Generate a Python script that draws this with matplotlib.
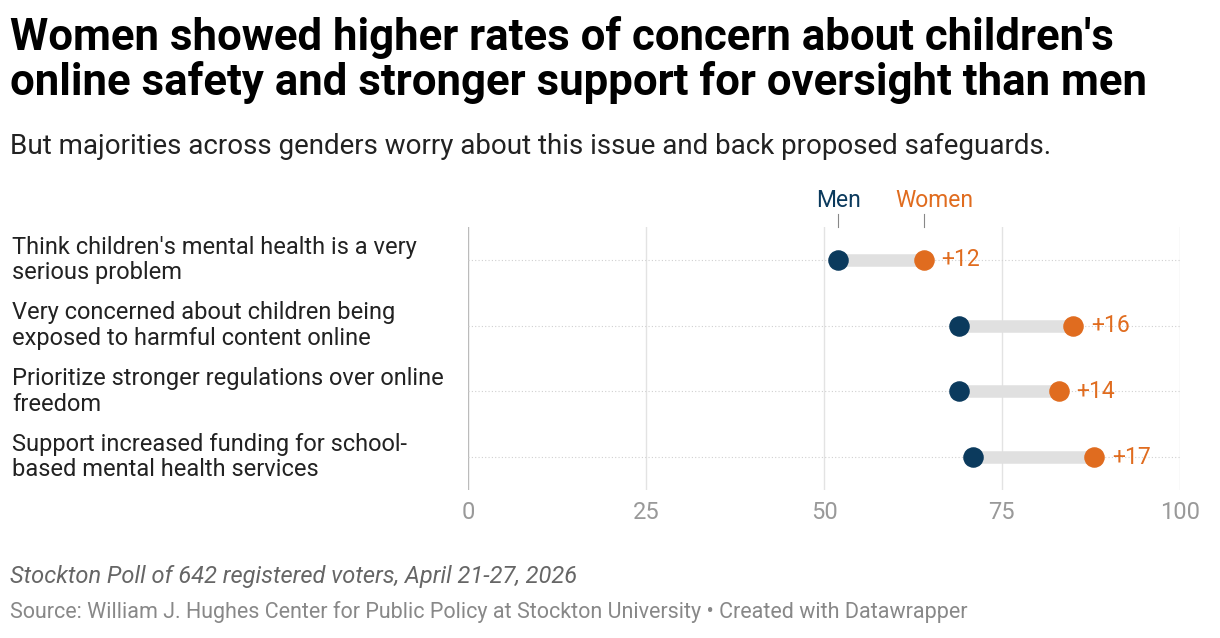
import matplotlib.pyplot as plt

# --- Data ---
questions = [
    "Think children's mental health is a very\nserious problem",
    "Very concerned about children being\nexposed to harmful content online",
    "Prioritize stronger regulations over online\nfreedom",
    "Support increased funding for school-\nbased mental health services",
]
men = [52, 69, 69, 71]
women = [64, 85, 83, 88]
ticks = [0, 25, 50, 75, 100]

MEN_C = "#0b3a5d"
WOMEN_C = "#e06c1f"
plt.rcParams['font.family'] = ['Roboto', 'DejaVu Sans']

fig = plt.figure(figsize=(12.2, 6.38), dpi=100)
ax = fig.add_axes([0.384, 0.232, 0.583, 0.412])
ax.set_xlim(0, 100)
ax.set_ylim(len(questions) - 0.5, -0.5)

for x in ticks:
    ax.axvline(x, color="#bbbbbb" if x == 0 else "#e3e3e3", lw=1, zorder=0)

for i, (m, w) in enumerate(zip(men, women)):
    ax.axhline(i, color="#d0d0d0", lw=0.8, ls=(0, (1, 2)), zorder=0)
    ax.plot([m, w], [i, i], color="#e0e0e0", lw=9, solid_capstyle="butt", zorder=1)
    ax.scatter([m], [i], s=190, color=MEN_C, zorder=3)
    ax.scatter([w], [i], s=190, color=WOMEN_C, zorder=3)
    ax.text(w + 2.5, i, f"+{w - m}", color=WOMEN_C, fontsize=16.5, va="center")
    fig.text(0.01, ax.transData.transform((0, i))[1] / fig.dpi / 6.38, questions[i],
             fontsize=17, va="center", color="#222222", linespacing=1.15)

# legend labels above the first row
ax.text(men[0], -0.73, "Men", color=MEN_C, fontsize=16.5, ha="center", va="bottom")
ax.text(women[0] + 1.5, -0.73, "Women", color=WOMEN_C, fontsize=16.5, ha="center", va="bottom")
for v in (men[0], women[0]):
    ax.plot([v, v], [-0.7, -0.5], color="#888888", lw=0.8, clip_on=False)

ax.set_xticks(ticks)
ax.set_xticklabels([str(t) for t in ticks], fontsize=17, color="#999999")
ax.set_yticks([])
ax.tick_params(length=0, pad=8)
for s in ax.spines.values():
    s.set_visible(False)

fig.text(0.008, 0.906, "Women showed higher rates of concern about children's\n"
         "online safety and stronger support for oversight than men",
         fontsize=31.5, fontweight="bold", va="center", linespacing=1.08)
fig.text(0.008, 0.771, "But majorities across genders worry about this issue and back proposed safeguards.",
         fontsize=20, color="#222222", va="center")
fig.text(0.008, 0.096, "Stockton Poll of 642 registered voters, April 21-27, 2026",
         fontsize=17, style="italic", color="#666666", va="center")
fig.text(0.008, 0.04, "Source: William J. Hughes Center for Public Policy at Stockton University \u2022 Created with Datawrapper",
         fontsize=15.5, color="#888888", va="center")

fig.savefig("out.png", dpi=100)
